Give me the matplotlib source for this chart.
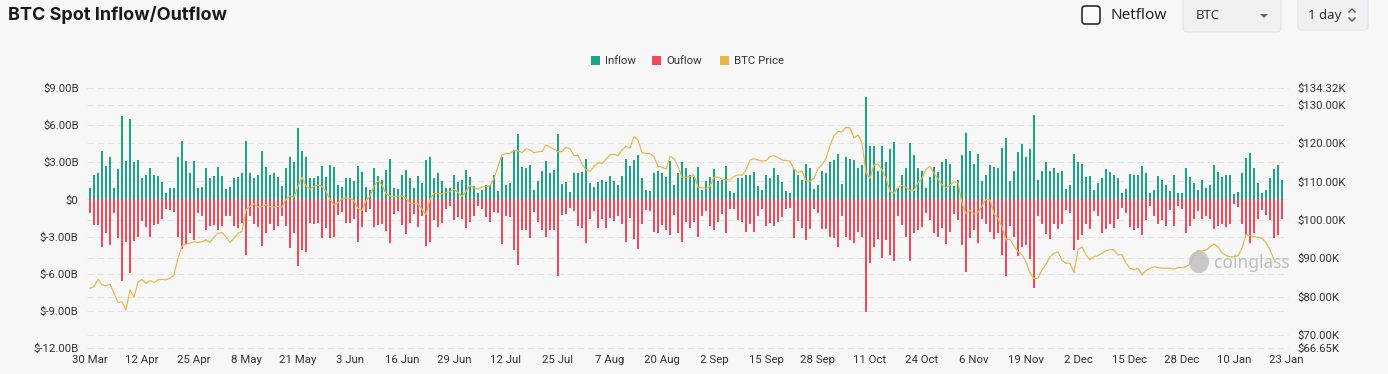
import numpy as np
import matplotlib
matplotlib.use("Agg")
import matplotlib.pyplot as plt
from matplotlib.patches import FancyBboxPatch, Rectangle, Polygon, Ellipse
from matplotlib.lines import Line2D
from matplotlib.transforms import IdentityTransform, blended_transform_factory

nan = float("nan")

# ---------------- data (billions USD / thousands USD) ----------------
inflow = [
    0.95, 1.95, 2.1, 3.95, 2.7, 3.4, 0.9, 2.45, 6.7, 3.1,
    6.5, 3.0, 3.2, 1.75, 2.0, 2.55, 2.0, 1.9, 1.4, 0.55,
    0.9, 0.9, 3.4, 4.7, 3.1, 2.1, 3.1, 0.9, 1.0, 2.5,
    1.7, 1.9, 2.6, 1.9, 0.85, 1.0, 1.75, 1.85, 2.1, 4.7,
    2.15, 1.7, 1.95, 3.9, 2.6, 1.95, 2.15, 1.85, 1.1, 2.5,
    3.4, 3.0, 5.75, 3.9, 3.4, 1.75, 1.75, 1.9, 2.7, 1.8,
    2.75, 2.65, 1.15, 1.0, 1.7, 1.7, 1.5, 2.7, 2.25, 1.0,
    0.8, 2.55, 1.9, 1.6, 2.35, 3.25, 0.95, 0.85, 2.0, 2.4,
    1.75, 0.95, 1.9, 1.3, 3.2, 3.4, 1.75, 2.15, 1.5, 0.9,
    0.9, 2.0, 1.4, 1.6, 2.4, 1.85, 1.1, 0.5, 0.8, 1.2,
    1.2, 1.95, 0.7, 3.4, 1.15, 1.35, 4.0, 5.25, 2.65, 2.5,
    2.75, 0.8, 1.45, 2.3, 3.1, 2.1, 2.4, 5.3, 1.25, 1.4,
    0.6, 2.1, 2.1, 2.2, 3.25, 1.3, 1.0, 1.4, 1.55, 1.4,
    1.9, 1.5, 1.2, 1.9, 3.25, 2.7, 3.2, 3.6, 1.7, 0.8,
    0.7, 2.15, 2.3, 2.1, 1.85, 3.1, 1.15, 2.15, 3.0, 2.55,
    2.0, 1.8, 2.65, 0.8, 1.45, 1.85, 2.45, 1.5, 1.6, 2.7,
    0.65, 0.55, 1.7, 1.75, 1.95, 1.95, 2.25, 1.1, 0.8, 2.0,
    1.7, 2.55, 1.95, 1.4, 0.7, 0.55, 2.45, 2.0, 1.6, 2.9,
    2.5, 0.85, 1.15, 2.3, 2.15, 3.0, 3.15, 3.65, 1.25, 3.4,
    3.25, 3.15, 2.55, 2.8, 8.3, 4.3, 4.3, 2.3, 4.35, 3.0,
    4.1, 4.6, 0.9, 1.95, 2.55, 4.55, 3.55, 2.5, 2.3, 0.9,
    1.85, 2.6, 2.25, 3.0, 3.25, 2.85, 1.1, 1.6, 3.55, 5.35,
    3.9, 2.85, 3.7, 1.45, 1.95, 2.75, 2.6, 2.55, 4.15, 5.0,
    1.45, 2.3, 3.85, 4.45, 3.45, 4.1, 6.8, 1.55, 2.3, 3.0,
    2.3, 2.5, 2.1, 2.3, 0.85, 1.15, 3.65, 3.0, 2.9, 1.85,
    1.9, 0.8, 1.3, 1.7, 2.45, 2.25, 2.0, 1.7, 0.5, 0.85,
    2.05, 1.95, 1.95, 2.7, 2.15, 0.5, 0.8, 1.9, 1.55, 1.15,
    0.7, 2.0, 0.5, 0.55, 2.55, 1.8, 1.35, 0.75, 1.55, 0.9,
    1.2, 2.8, 2.2, 1.85, 2.0, 2.0, 0.4, 0.6, 2.1, 3.35,
    3.75, 2.5, 1.35, 0.5, 0.75, 1.7, 2.45, 2.8, 1.6,
]

outflow = [
    1.1, 2.1, 2.1, 3.85, 2.75, 3.7, 1.1, 3.15, 6.6, 3.4,
    5.95, 3.35, 3.0, 1.75, 2.25, 3.0, 2.1, 2.0, 1.6, 0.8,
    0.85, 1.0, 3.0, 4.0, 3.6, 2.7, 3.25, 1.1, 1.35, 2.45,
    2.15, 2.1, 2.45, 2.15, 1.35, 1.35, 2.15, 2.3, 1.9, 4.45,
    1.35, 2.0, 2.25, 3.75, 2.75, 2.0, 2.45, 2.15, 1.3, 2.15,
    3.9, 2.7, 5.4, 4.1, 4.25, 1.9, 2.0, 1.9, 3.1, 2.3,
    3.1, 3.0, 1.25, 1.05, 1.9, 1.9, 1.55, 3.45, 2.2, 1.0,
    0.8, 2.25, 2.1, 2.0, 2.55, 3.5, 1.15, 0.95, 2.05, 2.8,
    1.9, 1.15, 2.25, 1.35, 3.8, 3.45, 1.7, 2.2, 1.9, 0.8,
    0.55, 1.7, 1.4, 1.6, 2.3, 1.8, 1.35, 0.55, 0.8, 1.4,
    1.85, 1.0, 1.1, 3.6, 1.35, 1.45, 4.05, 5.3, 2.45, 2.45,
    3.1, 1.0, 1.8, 2.45, 3.0, 2.45, 2.45, 6.15, 1.25, 1.2,
    0.7, 0.95, 2.15, 2.3, 3.55, 1.55, 0.95, 2.3, 1.6, 2.3,
    1.5, 1.75, 1.35, 2.0, 3.4, 1.5, 3.2, 4.0, 2.0, 0.85,
    0.95, 2.6, 2.7, 2.1, 2.45, 2.9, 1.25, 2.7, 3.45, 1.85,
    2.3, 1.85, 3.0, 1.3, 0.95, 2.15, 2.45, 1.85, 1.2, 2.75,
    0.8, 0.8, 1.7, 1.85, 2.65, 2.0, 2.65, 1.35, 0.8, 2.15,
    1.9, 2.15, 1.8, 1.45, 0.8, 0.7, 3.1, 1.75, 2.3, 3.3,
    2.4, 0.8, 1.1, 2.4, 2.4, 3.0, 3.1, 3.85, 1.35, 3.05,
    3.25, 3.55, 2.65, 3.0, 9.1, 5.15, 3.85, 3.2, 4.75, 3.3,
    4.5, 5.0, 1.35, 2.1, 3.0, 5.0, 2.7, 2.45, 2.2, 1.1,
    1.7, 2.7, 3.05, 2.3, 3.6, 2.6, 1.2, 1.7, 3.7, 5.85,
    3.15, 2.45, 3.55, 1.6, 1.95, 2.65, 3.2, 2.75, 4.45, 6.15,
    2.15, 3.0, 4.55, 3.85, 3.7, 4.8, 7.15, 1.35, 2.0, 2.8,
    3.2, 1.95, 2.4, 2.0, 0.85, 1.1, 4.05, 3.25, 2.9, 1.95,
    2.4, 0.95, 1.35, 2.7, 2.4, 2.0, 2.3, 1.6, 0.7, 1.1,
    2.2, 2.45, 2.3, 2.85, 1.7, 0.55, 1.3, 1.95, 1.7, 2.15,
    0.85, 2.15, 0.55, 0.8, 2.75, 2.15, 1.6, 0.9, 1.55, 1.3,
    1.6, 2.4, 2.15, 2.0, 2.2, 2.0, 0.4, 0.6, 2.0, 2.9,
    3.55, 2.75, 1.55, 0.85, 1.25, 1.7, 3.1, 2.9, 1.6,
]

btc_price = [
    82.2, 82.6, 84.5, 83.1, 82.8, 83.3, 80.9, 78.5, 78.7, 76.6,
    81.7, 79.9, 83.7, 84.5, 83.5, 84.2, 83.7, 84.4, 84.5, 84.4,
    84.8, 85.7, 90.0, 93.2, 93.7, 93.9, 94.3, 94.1, 94.3, 94.8,
    94.1, 95.5, 96.5, 96.7, 95.6, 94.2, 95.2, 96.5, 97.0, 102.6,
    103.5, 104.2, 103.3, 103.5, 103.9, 103.5, 103.3, 103.5, 103.3, 105.4,
    106.2, 105.9, 108.7, 111.1, 108.8, 108.0, 108.7, 109.1, 108.7, 107.4,
    105.3, 103.9, 104.5, 105.5, 105.7, 105.6, 105.0, 103.0, 102.4, 105.0,
    106.2, 108.7, 110.2, 109.1, 106.8, 106.2, 106.1, 106.2, 106.2, 105.6,
    104.3, 104.3, 104.2, 102.8, 101.3, 105.4, 106.9, 106.8, 106.8, 107.1,
    107.4, 108.0, 107.1, 106.1, 107.4, 109.0, 108.3, 108.0, 108.5, 108.7,
    108.8, 110.8, 113.9, 116.9, 117.3, 117.3, 118.0, 118.0, 117.5, 118.5,
    118.2, 117.5, 117.7, 117.8, 119.5, 118.9, 118.4, 117.7, 117.8, 118.9,
    118.5, 116.7, 116.8, 114.6, 113.0, 112.6, 113.9, 114.9, 114.6, 115.8,
    116.9, 117.1, 116.7, 118.2, 119.1, 118.7, 121.7, 120.8, 117.5, 117.3,
    117.2, 116.5, 113.9, 113.7, 113.2, 116.5, 116.0, 113.9, 111.1, 111.1,
    111.3, 111.7, 108.5, 108.4, 108.2, 108.7, 111.1, 111.1, 110.6, 110.4,
    110.4, 111.3, 111.7, 111.6, 113.0, 115.6, 115.9, 115.6, 115.3, 115.4,
    116.5, 116.7, 116.2, 115.6, 115.4, 115.3, 113.2, 112.3, 112.7, 110.2,
    110.0, 110.8, 113.4, 114.3, 116.0, 119.3, 121.9, 123.0, 122.9, 124.1,
    123.9, 121.3, 122.1, 120.0, 112.3, 110.8, 114.3, 114.6, 113.0, 110.8,
    107.4, 106.9, 108.5, 109.0, 108.5, 107.6, 107.6, 109.7, 110.8, 113.2,
    113.9, 112.1, 110.6, 109.1, 108.4, 109.0, 109.9, 109.7, 104.3, 101.7,
    102.4, 101.6, 101.9, 103.6, 105.4, 105.2, 101.6, 100.4, 98.1, 94.8,
    95.0, 93.2, 91.7, 90.9, 89.1, 86.1, 84.7, 84.8, 87.0, 88.4,
    90.4, 91.3, 91.7, 89.4, 88.7, 88.7, 86.3, 92.2, 93.0, 90.9,
    89.6, 90.4, 90.7, 91.3, 92.0, 92.2, 92.2, 90.9, 90.9, 88.7,
    87.4, 87.0, 87.4, 85.7, 86.8, 87.4, 87.8, 87.6, 87.4, 87.4,
    87.4, 87.2, 87.6, 87.6, 87.8, 88.5, 90.9, 92.0, 91.9, 92.2,
    93.0, 93.7, 93.0, 91.5, 90.7, 90.4, 90.4, 90.7, 92.6, 96.1,
    95.9, 95.6, 95.5, 95.2, 94.1, 92.2, 89.7, nan, nan,
]

x_tick_labels = ["30 Mar", "12 Apr", "25 Apr", "8 May", "21 May", "3 Jun",
                 "16 Jun", "29 Jun", "12 Jul", "25 Jul", "7 Aug", "20 Aug",
                 "2 Sep", "15 Sep", "28 Sep", "11 Oct", "24 Oct", "6 Nov",
                 "19 Nov", "2 Dec", "15 Dec", "28 Dec", "10 Jan", "23 Jan"]
flow_ticks = [-12, -9, -6, -3, 0, 3, 6, 9]
price_ticks = [66.65, 70, 80, 90, 100, 110, 120, 130, 134.32]
legend_labels = ["Inflow", "Ouflow", "BTC Price"]

# ---------------- style ----------------
BG = "#f7f7f7"
C_IN = "#1ba585"
C_OUT = "#ee4a5b"
C_PRICE = "#e8b648"
GRID = "#e3e3e3"
TXT = "#333333"
TICKFONT = "Roboto"

W, H = 1388, 374
fig = plt.figure(figsize=(W / 100, H / 100), dpi=100)
fig.patch.set_facecolor(BG)

L, R, T, B = 87, 1288, 88, 348
ax = fig.add_axes([L / W, 1 - B / H, (R - L) / W, (B - T) / H])
ax.set_facecolor(BG)
ax2 = ax.twinx()

n = len(inflow)
idx = np.arange(n)
inf = np.array(inflow)
outf = np.array(outflow)

ax.bar(idx, inf, width=0.68, color=C_IN, zorder=2, linewidth=0)
ax.bar(idx, -outf, width=0.68, color=C_OUT, zorder=2, linewidth=0)
ax2.plot(idx, btc_price, color=C_PRICE, lw=0.85, zorder=3)

ax.set_xlim(-0.75, 299.5)
ax.set_ylim(flow_ticks[0], flow_ticks[-1])
ax2.set_ylim(price_ticks[0], price_ticks[-1])

# grid lines (both axes), drawn behind bars
for v in flow_ticks:
    ax.axhline(v, color=GRID, lw=0.8, ls=(0, (6, 3)), zorder=0.5)
btr = blended_transform_factory(ax.transAxes, ax2.transData)
for v in price_ticks:
    ax.plot([0, 1], [v, v], transform=btr, color=GRID, lw=0.8,
            ls=(0, (6, 3)), zorder=0.5, clip_on=False)

# ticks
ax.set_xticks(np.arange(0, 300, 13))
ax.set_xticklabels(x_tick_labels)
ax.set_yticks(flow_ticks)
ax.set_yticklabels(["$0" if v == 0 else f"${v:.2f}B" for v in flow_ticks])
ax2.set_yticks(price_ticks)
ax2.set_yticklabels([f"${v:.2f}K" for v in price_ticks])

for a in (ax, ax2):
    for s in a.spines.values():
        s.set_visible(False)
    a.tick_params(length=0, labelsize=8.2, labelcolor=TXT)
    for lab in a.get_xticklabels() + a.get_yticklabels():
        lab.set_fontfamily(TICKFONT)
ax.tick_params(axis="y", pad=6)
ax.tick_params(axis="x", pad=5)
ax2.tick_params(axis="y", pad=7)

# ---------------- header ----------------
ID = IdentityTransform()


def px(x, y):
    return x / W, 1 - y / H


fig.text(*px(8, 15), "BTC Spot Inflow/Outflow", fontsize=13,
         fontweight="bold", family="Inter", color="#1a1a1a", va="center", ha="left")

# checkbox + Netflow
cb = FancyBboxPatch((1082, H - 24), 18, 18, boxstyle="round,pad=0,rounding_size=3",
                    transform=ID, facecolor="#fafafa", edgecolor="#2b2b2b", lw=1.2)
fig.add_artist(cb)
fig.text(*px(1110, 15.5), "Netflow", fontsize=11, family="Noto Sans", color="#222222",
         va="center", ha="left")

# BTC dropdown
box1 = FancyBboxPatch((1183, H - 32), 98, 38, boxstyle="round,pad=0,rounding_size=4",
                      transform=ID, facecolor="#eef0f3", edgecolor="#e2e5e9", lw=0.8)
fig.add_artist(box1)
fig.text(*px(1196, 15.5), "BTC", fontsize=9.5, family="Noto Sans", color="#333333",
         va="center", ha="left")
tri = Polygon([[1260, H - 14], [1268, H - 14], [1264, H - 18]], closed=True,
              transform=ID, facecolor="#666666", edgecolor="none")
fig.add_artist(tri)

# 1 day
box2 = FancyBboxPatch((1298, H - 30), 70, 36, boxstyle="round,pad=0,rounding_size=4",
                      transform=ID, facecolor="#eef0f3", edgecolor="#e2e5e9", lw=0.8)
fig.add_artist(box2)
fig.text(*px(1308, 15.5), "1 day", fontsize=9.5, family="Noto Sans", color="#333333",
         va="center", ha="left")
fig.add_artist(Line2D([1349, 1352, 1355], [H - 12, H - 9, H - 12], transform=ID,
                      color="#555555", lw=1.0))
fig.add_artist(Line2D([1349, 1352, 1355], [H - 18, H - 21, H - 18], transform=ID,
                      color="#555555", lw=1.0))

# ---------------- legend ----------------
leg_items = [(591, C_IN, legend_labels[0]), (652, C_OUT, legend_labels[1]),
             (720, C_PRICE, legend_labels[2])]
for x0, c, lab in leg_items:
    fig.add_artist(Rectangle((x0, H - 65), 9, 9, transform=ID, facecolor=c,
                             edgecolor="none"))
    fig.text(*px(x0 + 14, 60.5), lab, fontsize=8.2, family=TICKFONT, color=TXT,
             va="center", ha="left")

# ---------------- watermark ----------------
fig.add_artist(Ellipse((1199, H - 262), 20, 22, transform=ID, facecolor="#bdbdbd",
                       edgecolor="none", alpha=0.8))
fig.text(*px(1214, 263), "coinglass", fontsize=12.5, fontweight="bold",
         family="Noto Sans", color="#b9b9b9", alpha=0.9, va="center", ha="left")

fig.savefig("out.png", dpi=100, facecolor=BG)
